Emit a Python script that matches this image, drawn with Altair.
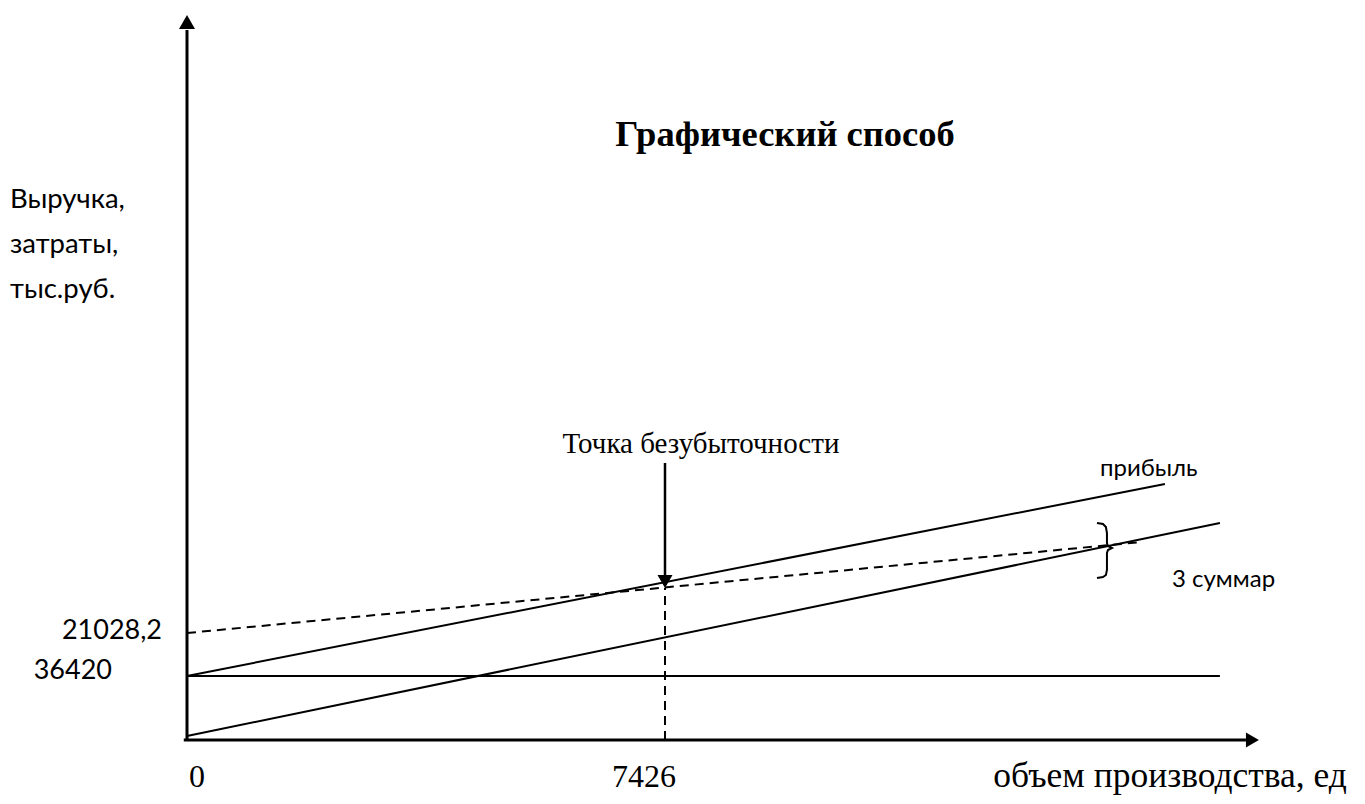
import altair as alt
import pandas as pd

# ---- schematic data (x: объем производства, ед; y: условные единицы) ----
BREAK_EVEN_Q = 7426
REV_X, REV_Y = [0, 15193], [64, 256]          # выручка
VAR_X, VAR_Y = [0, 16047], [4, 217]           # переменные затраты
FIX_X, FIX_Y = [0, 16047], [64, 64]           # постоянные затраты
TOT_X, TOT_Y = [0, 14836], [107, 198]         # суммарные затраты (пунктир)
BE_Y = 152                                    # уровень точки безубыточности
XAXIS_END, YAXIS_END = 16451, 710
BRACE_X = [14137, 14230, 14276, 14292, 14292, 14308, 14370, 14308, 14292, 14292, 14276, 14230, 14137]
BRACE_Y = [217, 216, 213, 207, 197, 194, 192, 190, 187, 170, 165, 163, 162]

TITLE = "Графический способ"
BE_LABEL = "Точка безубыточности"
Y_TITLE_LINES = ["Выручка,", "затраты,", "тыс.руб."]
Y_TICKS = ["21028,2", "36420"]
X_TICKS = ["0", "7426"]
X_TITLE = "объем производства, ед"
SMALL_LABELS = ["прибыль", "3 суммар"]

# ---- layout constants (pixels) ----
W, H = 1349, 788
K = 478 / 7426                      # px per unit on x
XMIN, XMAX = (8 - 187) / K, (1357 - 187) / K
YMIN, YMAX = -56, 732

xs = alt.Scale(domain=[XMIN, XMAX], nice=False, zero=False)
ys = alt.Scale(domain=[YMIN, YMAX], nice=False, zero=False)


def X(f="x"):
    return alt.X(f"{f}:Q", scale=xs, axis=None)


def Y(f="y"):
    return alt.Y(f"{f}:Q", scale=ys, axis=None)


def seg_df(name, xv, yv):
    return pd.DataFrame({"s": name, "x": xv, "y": yv, "o": list(range(len(xv)))})


solid = pd.concat([
    seg_df("rev", REV_X, REV_Y),
    seg_df("var", VAR_X, VAR_Y),
    seg_df("fix", FIX_X, FIX_Y),
])
solid_layer = alt.Chart(solid).mark_line(color="black", strokeWidth=2).encode(
    x=X(), y=Y(), detail="s:N", order="o:Q")

dashed = pd.concat([
    seg_df("tot", TOT_X, TOT_Y),
    seg_df("be", [BREAK_EVEN_Q, BREAK_EVEN_Q], [0, BE_Y]),
])
dashed_layer = alt.Chart(dashed).mark_line(color="black", strokeWidth=2, strokeDash=[9, 6]).encode(
    x=X(), y=Y(), detail="s:N", order="o:Q")

axes = pd.concat([
    seg_df("xa", [-50, XAXIS_END], [0, 0]),
    seg_df("ya", [0, 0], [0, YAXIS_END]),
])
axes_layer = alt.Chart(axes).mark_line(color="black", strokeWidth=3).encode(
    x=X(), y=Y(), detail="s:N", order="o:Q")

arrow_line = alt.Chart(seg_df("arr", [BREAK_EVEN_Q, BREAK_EVEN_Q], [277, 164])).mark_line(
    color="black", strokeWidth=2.5).encode(x=X(), y=Y(), order="o:Q")

heads = pd.DataFrame({
    "x": [0, 16552, BREAK_EVEN_Q],
    "y": [718, 0, 158.5],
    "shape": ["triangle-up", "triangle-right", "triangle-down"],
    "size": [256, 225, 225],
})
heads_layer = alt.Chart(heads).mark_point(filled=True, color="black", opacity=1, strokeWidth=0).encode(
    x=X(), y=Y(), shape=alt.Shape("shape:N", scale=None), size=alt.Size("size:Q", scale=None))

brace_layer = alt.Chart(seg_df("brace", BRACE_X, BRACE_Y)).mark_line(
    color="black", strokeWidth=2, interpolate="linear").encode(x=X(), y=Y(), order="o:Q")

# ---- texts ----
serif = "Liberation Serif"
sans = "Lato"

title_layer = alt.Chart(pd.DataFrame({"x": [9290], "y": [594], "t": [TITLE]})).mark_text(
    font=serif, fontSize=36.5, fontWeight="bold", align="center", baseline="alphabetic", color="black"
).encode(x=X(), y=Y(), text="t:N")

be_layer = alt.Chart(pd.DataFrame({"x": [7985], "y": [287], "t": [BE_LABEL]})).mark_text(
    font=serif, fontSize=29, align="center", baseline="alphabetic", color="black"
).encode(x=X(), y=Y(), text="t:N")

xt = pd.DataFrame({"x": [155, 7100], "y": [-47, -47], "t": X_TICKS})
xt_layer = alt.Chart(xt).mark_text(
    font=serif, fontSize=32, align="center", baseline="alphabetic", color="black"
).encode(x=X(), y=Y(), text="t:N")

xtitle_layer = alt.Chart(pd.DataFrame({"x": [18020], "y": [-47], "t": [X_TITLE]})).mark_text(
    font=serif, fontSize=35.5, align="right", baseline="alphabetic", color="black"
).encode(x=X(), y=Y(), text="t:N")

ytitle = pd.DataFrame({"x": [-2750] * 3, "y": [532, 487, 442], "t": Y_TITLE_LINES})
ytitle_layer = alt.Chart(ytitle).mark_text(
    font=sans, fontSize=27.5, align="left", baseline="alphabetic", color="black"
).encode(x=X(), y=Y(), text="t:N")

yt = pd.DataFrame({"x": [-388, -1165], "y": [101, 61], "t": Y_TICKS})
yt_layer = alt.Chart(yt).mark_text(
    font=sans, fontSize=27, align="right", baseline="alphabetic", color="black"
).encode(x=X(), y=Y(), text="t:N")

small = pd.DataFrame({"x": [14183, 15302], "y": [264, 153], "t": SMALL_LABELS})
small_layer = alt.Chart(small).mark_text(
    font=sans, fontSize=24, align="left", baseline="alphabetic", color="black"
).encode(x=X(), y=Y(), text="t:N")

chart = alt.layer(
    solid_layer, dashed_layer, axes_layer, arrow_line, heads_layer, brace_layer,
    title_layer, be_layer, xt_layer, xtitle_layer, ytitle_layer, yt_layer, small_layer,
).properties(
    width=W, height=H, autosize=alt.AutoSizeParams(type="none"), padding=0,
    background="white",
).configure_view(stroke=None)

chart.save("out.html", embed_options={"renderer": "svg", "actions": False})
